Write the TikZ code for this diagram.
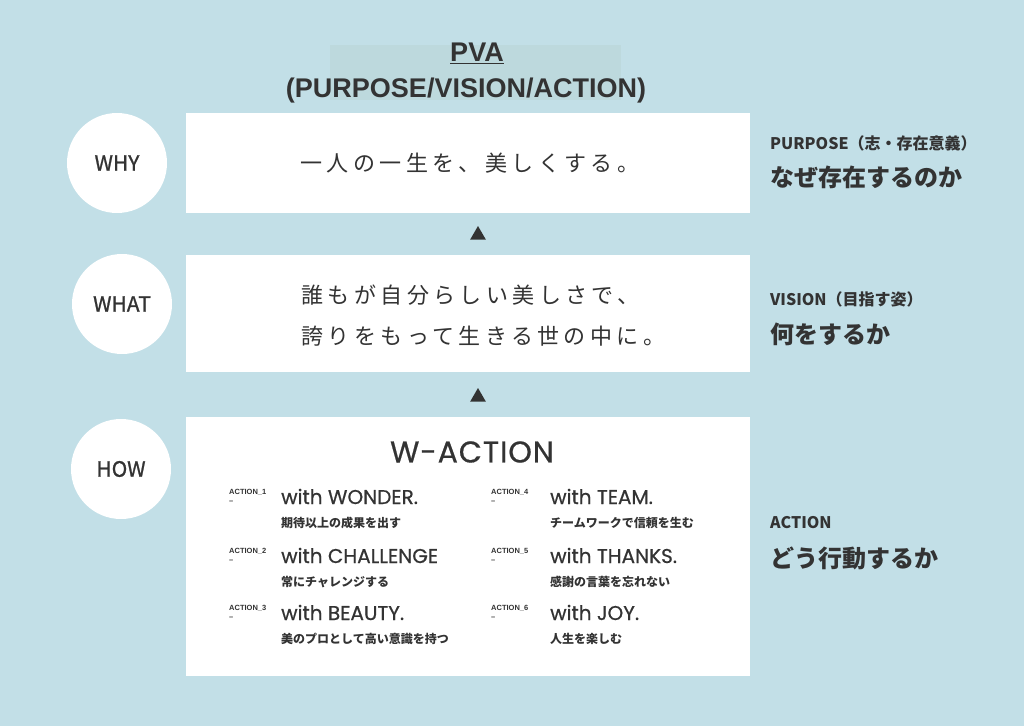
\documentclass[tikz,border=0pt]{standalone}
\usepackage{fontspec}
\setmainfont{Liberation Sans}
\newfontfamily\jpsans{Noto Sans CJK JP}
\newfontfamily\geo{Poppins}
\usetikzlibrary{shapes.geometric}
\definecolor{bgblue}{HTML}{C2DFE7}
\definecolor{titlebg}{HTML}{BDD9DD}
\definecolor{ink}{HTML}{333333}
\tikzset{
  box/.style={fill=white, minimum width=564bp, inner sep=0pt},
  badge/.style={circle, fill=white, minimum size=100bp, inner sep=0pt, text=ink,
    font=\jpsans\fontsize{21bp}{24bp}\selectfont\addfontfeatures{FakeBold=1}},
  marker/.style={regular polygon, regular polygon sides=3, fill=ink, minimum size=18bp, inner sep=0pt},
  copytext/.style={text=ink, align=left,
    font=\jpsans\fontsize{22bp}{41bp}\selectfont\addfontfeatures{LetterSpace=20}},
  sidehead/.style={anchor=base west, text=ink, inner sep=0pt, font=\jpsans\bfseries\fontsize{16bp}{18bp}\selectfont},
  sidecopy/.style={anchor=base west, text=ink, inner sep=0pt, font=\jpsans\bfseries\fontsize{24bp}{26bp}\selectfont},
  tag/.style={anchor=north west, text=ink, inner sep=0pt, align=left,
    font=\bfseries\fontsize{7.5bp}{9bp}\selectfont},
  actname/.style={anchor=base west, text=ink, inner sep=0pt,
    font=\geo\fontsize{20bp}{22bp}\selectfont\addfontfeatures{FakeBold=0.6}},
  actnote/.style={anchor=base west, text=ink, inner sep=0pt, font=\jpsans\bfseries\fontsize{12bp}{14bp}\selectfont}
}
\begin{document}
\begin{tikzpicture}[x=1bp, y=-1bp]
    % Background
    \fill[bgblue] (0,0) rectangle (1024,726);
    \fill[titlebg] (330,45) rectangle (621,100);

    % Title
    \node[anchor=base, text=ink, font=\bfseries\fontsize{27bp}{30bp}\selectfont] (pva) at (477,62) {\underline{PVA}};
    \node[anchor=base, text=ink, font=\bfseries\fontsize{27bp}{30bp}\selectfont] (pvafull) at (466,98) {(PURPOSE/VISION/ACTION)};

    % Badges
    \node[badge] (why) at (117,163) {WHY};
    \node[badge] (what) at (122,304) {WHAT};
    \node[badge] (how) at (121,469) {HOW};

    % Boxes
    \node[box, minimum height=100bp] (whybox) at (468,163) {};
    \node[box, minimum height=117bp] (whatbox) at (468,313.5) {};
    \node[box, minimum height=259bp] (howbox) at (468,546.5) {};

    % Markers
    \node[marker] (up1) at (478,235) {};
    \node[marker] (up2) at (478,397) {};

    % Copy
    \node[copytext] (purpose) at (470,163) {一人の一生を、美しくする。};
    \node[copytext, anchor=west] (vision) at (298,316) {誰もが自分らしい美しさで、\\誇りをもって生きる世の中に。};
    \node[text=ink, font=\geo\fontsize{30bp}{34bp}\selectfont\addfontfeatures{LetterSpace=3,FakeBold=0.6}] (waction) at (472,452) {W-ACTION};

    % Actions
    \foreach \n/\x/\dx/\y/\name/\note in {
        1/229/52/504/with WONDER./期待以上の成果を出す,
        2/229/52/563/with CHALLENGE/常にチャレンジする,
        3/229/52/620/with BEAUTY./美のプロとして高い意識を持つ,
        4/491/59/504/with TEAM./チームワークで信頼を生む,
        5/491/59/563/with THANKS./感謝の言葉を忘れない,
        6/491/59/620/with JOY./人生を楽しむ} {
        \node[tag] (tag\n) at (\x,\y-15) {ACTION\_\n\\–};
        \node[actname] (act\n) at (\x+\dx,\y) {\name};
        \node[actnote] (note\n) at (\x+\dx,\y+23) {\note};
    }

    % Side labels
    \node[sidehead] (purposehead) at (770,150) {PURPOSE（志・存在意義）};
    \node[sidecopy] (purposecopy) at (770,187) {なぜ存在するのか};
    \node[sidehead] (visionhead) at (770,305) {VISION（目指す姿）};
    \node[sidecopy] (visioncopy) at (770,343) {何をするか};
    \node[sidehead] (actionhead) at (770,528) {ACTION};
    \node[sidecopy] (actioncopy) at (770,567) {どう行動するか};
\end{tikzpicture}
\end{document}
